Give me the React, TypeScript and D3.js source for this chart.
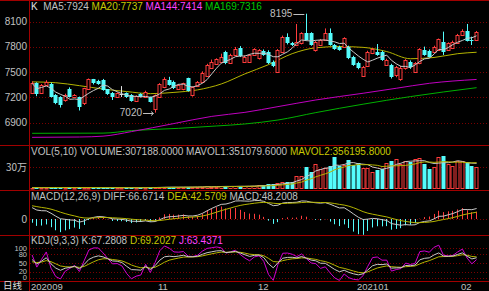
import React from 'react';
import * as d3 from 'd3';

// ---- data ----
const opens = [
  7257,7368,7257,7348,7360,7230,7210,7170,7297,7205,
  7200,7130,7297,7415,7400,7408,7297,7257,7210,7242,
  7249,7230,7162,7241,7210,7202,7060,7210,7320,7408,
  7388,7297,7297,7428,7230,7335,7388,7455,7546,7598,
  7625,7744,7606,7704,7784,7625,7625,7705,7665,7756,
  7744,7625,7506,7744,7922,7851,7823,7843,7962,7962,
  7764,7823,7883,7962,7823,7804,7804,7804,7685,7614,
  7455,7574,7724,7744,7744,7586,7586,7467,7420,7546,
  7625,7506,7606,7764,7756,7744,7764,7863,7764,7784,
  7843,7942,7994,7883,7883];
const highs = [
  7390,7380,7360,7405,7375,7240,7215,7245,7320,7240,
  7210,7315,7425,7420,7410,7420,7300,7265,7260,7335,
  7260,7240,7225,7250,7280,7210,7235,7370,7440,7445,
  7400,7360,7375,7435,7330,7395,7510,7600,7650,7665,
  7720,7755,7720,7800,7810,7700,7715,7785,7775,7770,
  7760,7640,7775,7935,7962,7860,8073,7975,8195,7975,
  7870,7895,8020,8020,7835,7815,7915,7815,7695,7625,
  7575,7755,7785,7835,7755,7660,7600,7575,7575,7655,
  7640,7620,7785,7804,7770,7815,7900,7982,7855,7875,
  7955,8010,8073,7922,7990];
const lows = [
  7245,7215,7250,7340,7200,7120,7080,7150,7200,7195,
  7045,7110,7290,7355,7350,7280,7230,7170,7200,7205,
  7195,7150,7150,7200,7200,7140,7020,7200,7310,7340,
  7300,7290,7285,7270,7210,7325,7380,7445,7540,7590,
  7615,7595,7600,7695,7680,7615,7615,7700,7650,7695,
  7596,7560,7500,7735,7830,7810,7810,7830,7875,7815,
  7745,7815,7875,7815,7765,7755,7795,7655,7575,7535,
  7450,7566,7715,7695,7635,7575,7425,7440,7398,7530,
  7540,7495,7595,7695,7675,7735,7755,7705,7755,7775,
  7835,7935,7865,7823,7870];
const closes = [
  7368,7241,7348,7388,7210,7130,7110,7230,7210,7230,
  7091,7308,7415,7368,7360,7289,7241,7202,7249,7242,
  7202,7162,7218,7210,7270,7150,7230,7360,7415,7348,
  7310,7348,7368,7280,7320,7388,7487,7585,7625,7653,
  7685,7606,7704,7772,7693,7685,7705,7772,7764,7705,
  7606,7574,7764,7922,7843,7823,7863,7962,7883,7823,
  7863,7883,7962,7823,7772,7764,7903,7665,7586,7546,
  7566,7744,7772,7705,7645,7645,7440,7566,7550,7645,
  7566,7606,7772,7705,7685,7804,7890,7744,7843,7863,
  7942,7994,7875,7870,7982];
const volumes = [
  12000,14000,11000,13000,15000,16000,14000,12000,13000,11000,
  15000,14000,13000,12000,11000,13000,12000,14000,11000,10000,
  12000,13000,11000,12000,14000,13000,18000,20000,22000,19000,
  18000,17000,20000,24000,21000,22000,26000,30000,28000,27000,
  31000,33000,29000,30000,34000,30000,38000,42000,45000,47000,
  57000,57000,80000,85000,95000,95000,176000,180000,309000,238000,
  343000,271000,285000,319000,443000,319000,333000,404000,333000,357000,
  295000,295000,238000,261000,276000,357000,395000,414000,347000,395000,
  381000,414000,428000,347000,271000,309000,440000,460000,347000,323000,
  395000,390000,370000,319000,307188];

// moving averages at sample candles
const ma20Idx = [0,5,10,15,20,25,30,35,40,45,50,55,60,65,70,75,80,85,90,94];
const ma20Val = [7385,7375,7340,7300,7270,7245,7260,7290,7360,7480,7590,7720,7790,7805,7795,7745,7660,7675,7720,7737];
const ma144Idx = [0,10,15,21,30,38,45,52,60,70,77,84,94];
const ma144Val = [6726,6730,6740,6794,6890,6975,7023,7091,7170,7250,7309,7368,7414];
const ma169Idx = [0,15,21,31,39,45,52,60,70,80,94];
const ma169Val = [6774,6776,6806,6833,6861,6885,6932,7020,7120,7210,7316];

// MACD state before the first candle
const macdStart = [73, 85]; // DIFF, DEA

const priceTicks = [8100, 7800, 7500, 7200, 6900];
const volTicks = [300000];
const volTickLabels = ['30万'];
const kdjTicks = [100, 80, 50, 20, 0];
const dateTickIdx = [0, 27, 48, 69, 91];
const dateTickLabels = ['202009', '11', '12', '202101', '02'];

const mainLegend = ['7924', '7737', '7414', '7316'];
const volLegend = ['307188.0000', '351079.6000', '356195.8000'];
const macdLegend = ['66.6714', '42.5709', '48.2008'];
const kdjLegend = ['67.2808', '69.2027', '63.4371'];

// ---- colours ----
const RED = '#ff3c3c';
const CYAN = '#54fcfc';
const GRID = '#a00000';
const DOT = '#7a0000';
const TXT = '#c0c0c0';
const YEL = '#c8c800';
const MAG = '#ff40ff';
const GRN = '#00c800';
const FONT = '"Liberation Sans", Arial, sans-serif';

export default function App() {
  const W = 489, H = 291;
  const N = closes.length;
  const xc = d3.scaleLinear().domain([0, N - 1]).range([32.1, 476.6]);
  const col = (i: number) => Math.floor(xc(i));

  const py = d3.scaleLinear().domain([6900, 8100]).range([122.7, 21.7]);
  const vy = d3.scaleLinear().domain([0, 300000]).range([188.5, 167.3]);
  const ky = d3.scaleLinear().domain([0, 100]).range([277.5, 248.3]);

  const ma5 = closes.map((_, i) => d3.mean(closes.slice(Math.max(0, i - 4), i + 1)) as number);
  const mavol1 = volumes.map((_, i) => d3.mean(volumes.slice(Math.max(0, i - 4), i + 1)) as number);
  const mavol2 = volumes.map((_, i) => d3.mean(volumes.slice(Math.max(0, i - 9), i + 1)) as number);

  // MACD
  const diff: number[] = [], dea: number[] = [], macd: number[] = [];
  let e12 = closes[0], e26 = closes[0] - macdStart[0], de = macdStart[1];
  closes.forEach((c, i) => {
    if (i > 0) {
      e12 = (2 * c + 11 * e12) / 13;
      e26 = (2 * c + 25 * e26) / 27;
    }
    const df = e12 - e26;
    if (i > 0) de = (2 * df + 8 * de) / 10;
    diff.push(df); dea.push(de); macd.push(2 * (df - de));
  });
  const macdMax = d3.max([...diff, ...dea, ...macd]) as number;
  const my = d3.scaleLinear().domain([0, macdMax]).range([219, 200.5]);

  // KDJ(9,3,3)
  const K: number[] = [], D: number[] = [], J: number[] = [];
  let k = 50, dd = 50;
  closes.forEach((c, i) => {
    const lo = d3.min(lows.slice(Math.max(0, i - 8), i + 1)) as number;
    const hi = d3.max(highs.slice(Math.max(0, i - 8), i + 1)) as number;
    const rsv = hi === lo ? 50 : ((c - lo) / (hi - lo)) * 100;
    k = (2 * k + rsv) / 3;
    dd = (2 * dd + k) / 3;
    K.push(k); D.push(dd); J.push(3 * k - 2 * dd);
  });

  const lineOf = (arr: number[], y: (v: number) => number) =>
    d3.line<number>().x((_, i) => xc(i)).y((v) => y(v))(arr) as string;
  const sparse = (idx: number[], vals: number[]) =>
    d3.line<number>().x((_, j) => xc(idx[j])).y((v) => py(v)).curve(d3.curveMonotoneX)(vals) as string;

  const hiIdx = d3.maxIndex(highs);
  const loIdx = d3.minIndex(lows);

  const candles = closes.map((c, i) => {
    const o = opens[i];
    const left = col(i) - 1.5;
    const wx = col(i) + 0.5;
    const yH = py(highs[i]), yL = py(lows[i]);
    if (c > o) {
      const top = Math.round(py(c)), bot = Math.round(py(o));
      return (
        <g key={i} stroke={RED}>
          <line x1={wx} x2={wx} y1={yH} y2={top + 0.5} />
          <line x1={wx} x2={wx} y1={bot + 0.5} y2={yL} />
          <rect x={left + 0.5} y={top + 0.5} width={3} height={Math.max(1, bot - top)} fill="#000" />
        </g>
      );
    } else if (c < o) {
      const top = Math.round(py(o)), bot = Math.round(py(c));
      return (
        <g key={i}>
          <line x1={wx} x2={wx} y1={yH} y2={yL} stroke={CYAN} />
          <rect x={left} y={top} width={4} height={Math.max(1, bot - top)} fill={CYAN} />
        </g>
      );
    }
    const yy = Math.round(py(c)) + 0.5;
    return (
      <g key={i} stroke="#e0e0e0">
        <line x1={wx} x2={wx} y1={yH} y2={yL} />
        <line x1={left} x2={left + 4} y1={yy} y2={yy} />
      </g>
    );
  });

  const volBars = volumes.map((v, i) => {
    const up = closes[i] >= opens[i];
    const left = col(i) - 1.5;
    const top = Math.round(vy(v));
    const bot = Math.round(vy(0));
    if (up) {
      return <rect key={i} x={left + 0.5} y={top + 0.5} width={3} height={Math.max(0.5, bot - top - 1)} fill="#000" stroke={RED} />;
    }
    return <rect key={i} x={left} y={top} width={4} height={Math.max(1, bot - top)} fill={CYAN} />;
  });

  const macdBars = macd.map((m, i) => {
    const wx = col(i) + 0.5;
    return <line key={i} x1={wx} x2={wx} y1={my(0)} y2={my(m)} stroke={m >= 0 ? RED : CYAN} />;
  });

  const hx = xc(hiIdx), hy = py(highs[hiIdx]);
  const lx = xc(loIdx), ly = py(lows[loIdx]);

  return (
    <svg width={W} height={H} style={{ position: 'fixed', left: 0, top: 0, background: '#000' }}
      fontFamily={FONT}>
      <defs>
        <clipPath id="cMain"><rect x={30} y={1} width={459} height={144} /></clipPath>
        <clipPath id="cVol"><rect x={30} y={146} width={459} height={44} /></clipPath>
        <clipPath id="cMacd"><rect x={30} y={191} width={459} height={44} /></clipPath>
        <clipPath id="cKdj"><rect x={30} y={236} width={459} height={45} /></clipPath>
      </defs>
      <rect x={0} y={0} width={W} height={H} fill="#000" />

      {priceTicks.map((t) => (
        <line key={t} x1={30} x2={W} y1={Math.round(py(t)) + 0.5} y2={Math.round(py(t)) + 0.5} stroke={DOT} strokeDasharray="1,2" />
      ))}
      {volTicks.map((t) => (
        <line key={t} x1={30} x2={W} y1={Math.round(vy(t)) + 0.5} y2={Math.round(vy(t)) + 0.5} stroke={DOT} strokeDasharray="1,2" />
      ))}
      <line x1={30} x2={W} y1={Math.round(my(0)) + 0.5} y2={Math.round(my(0)) + 0.5} stroke={DOT} strokeDasharray="1,2" />
      {kdjTicks.map((t) => (
        <line key={t} x1={30} x2={W} y1={Math.round(ky(t)) + 0.5} y2={Math.round(ky(t)) + 0.5} stroke={DOT} strokeDasharray="1,2" />
      ))}

      <line x1={0} x2={W} y1={0.5} y2={0.5} stroke={GRID} />
      {[145, 190, 235, 281].map((y) => (
        <line key={y} x1={0} x2={W} y1={y + 0.5} y2={y + 0.5} stroke={GRID} />
      ))}
      <line x1={29.5} x2={29.5} y1={0} y2={H} stroke={GRID} />

      <g clipPath="url(#cMain)">
        <path d={sparse(ma169Idx, ma169Val)} fill="none" stroke="#00b000" />
        <path d={sparse(ma144Idx, ma144Val)} fill="none" stroke="#c000c0" />
        <path d={sparse(ma20Idx, ma20Val)} fill="none" stroke="#b4b400" />
        {candles}
        <path d={lineOf(ma5, py)} fill="none" stroke="#c8c8c8" />
      </g>
      <g fontSize={10} fill={TXT}>
        <text x={hx - 14} y={hy + 3.5} textAnchor="end">{highs[hiIdx]}</text>
        <line x1={hx - 13} x2={hx - 2} y1={Math.round(hy) + 0.5} y2={Math.round(hy) + 0.5} stroke={TXT} />
        <text x={lx - 13} y={ly + 3.5} textAnchor="end">{lows[loIdx]}</text>
        <line x1={lx - 12} x2={lx - 2} y1={Math.round(ly) + 0.5} y2={Math.round(ly) + 0.5} stroke={TXT} />
        <path d={`M${lx - 4},${Math.round(ly) - 1.5}L${lx - 1.5},${Math.round(ly) + 0.5}L${lx - 4},${Math.round(ly) + 2.5}`} fill="none" stroke={TXT} />
      </g>
      <text x={31} y={9.5} fontSize={10} xmlSpace="preserve">
        <tspan fill="#e0e0e0">K  </tspan>
        <tspan fill={TXT}>MA5:{mainLegend[0]} </tspan>
        <tspan fill={YEL}>MA20:{mainLegend[1]} </tspan>
        <tspan fill={MAG}>MA144:{mainLegend[2]} </tspan>
        <tspan fill={GRN}>MA169:{mainLegend[3]}</tspan>
      </text>
      {priceTicks.map((t) => (
        <text key={t} x={27} y={py(t) + 3.5} fontSize={10} fill={TXT} textAnchor="end">{t}</text>
      ))}

      <g clipPath="url(#cVol)">
        {volBars}
        <path d={lineOf(mavol1, vy)} fill="none" stroke="#c8c8c8" />
        <path d={lineOf(mavol2, vy)} fill="none" stroke="#b4b400" />
      </g>
      <text x={31} y={155} fontSize={10} xmlSpace="preserve">
        <tspan fill={TXT}>VOL(5,10) VOLUME:{volLegend[0]} MAVOL1:{volLegend[1]} </tspan>
        <tspan fill={YEL}>MAVOL2:{volLegend[2]}</tspan>
      </text>
      {volTicks.map((t, i) => (
        <text key={t} x={27} y={vy(t) + 3.5} fontSize={10} fill={TXT} textAnchor="end"
          fontFamily='"Noto Sans CJK SC", sans-serif'>{volTickLabels[i]}</text>
      ))}

      <g clipPath="url(#cMacd)">
        {macdBars}
        <path d={lineOf(diff, my)} fill="none" stroke="#c8c8c8" />
        <path d={lineOf(dea, my)} fill="none" stroke="#b4b400" />
      </g>
      <text x={31} y={199.5} fontSize={10} xmlSpace="preserve">
        <tspan fill={TXT}>MACD(12,26,9) DIFF:{macdLegend[0]} </tspan>
        <tspan fill={YEL}>DEA:{macdLegend[1]} </tspan>
        <tspan fill={TXT}>MACD:{macdLegend[2]}</tspan>
      </text>
      <text x={27} y={my(0) + 3.5} fontSize={10} fill={TXT} textAnchor="end">0</text>

      <g clipPath="url(#cKdj)">
        <path d={lineOf(J, ky)} fill="none" stroke="#d000d0" />
        <path d={lineOf(D, ky)} fill="none" stroke="#b4b400" />
        <path d={lineOf(K, ky)} fill="none" stroke="#c8c8c8" />
      </g>
      <text x={31} y={244} fontSize={10} xmlSpace="preserve">
        <tspan fill={TXT}>KDJ(9,3,3) K:{kdjLegend[0]} </tspan>
        <tspan fill={YEL}>D:{kdjLegend[1]} </tspan>
        <tspan fill={MAG}>J:{kdjLegend[2]}</tspan>
      </text>
      {kdjTicks.map((t) => (
        <text key={t} x={27} y={ky(t) + 2.6} fontSize={7.5} fill={TXT} textAnchor="end">{t}</text>
      ))}

      <text x={3} y={288.5} fontSize={9.5} fill="#e0e0e0" fontFamily='"Noto Sans CJK SC", sans-serif'>日线</text>
      {dateTickIdx.map((d, i) => (
        <text key={d} x={col(d) - 1} y={289.5} fontSize={9.5} fill={TXT}>{dateTickLabels[i]}</text>
      ))}
    </svg>
  );
}
